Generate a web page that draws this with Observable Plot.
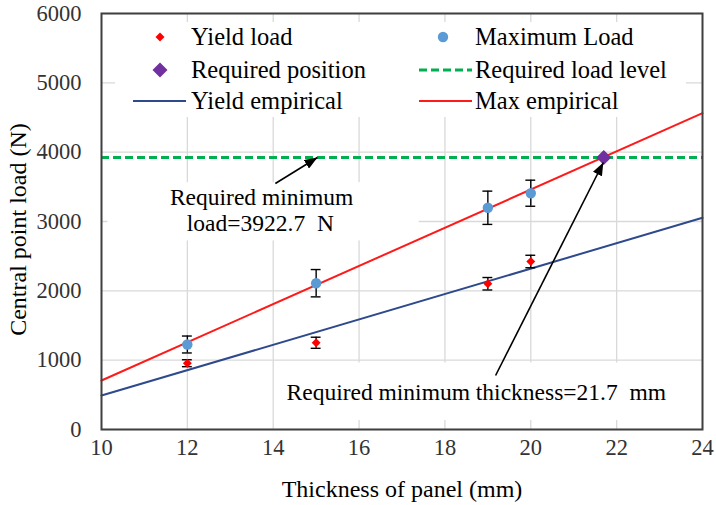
<!DOCTYPE html>
<html><head><meta charset="utf-8">
<script src="https://cdn.jsdelivr.net/npm/d3@7"></script>
<script src="https://cdn.jsdelivr.net/npm/@observablehq/plot@0.6"></script>
<style>
body{margin:0;background:#fff;}
#wrap{position:relative;width:716px;height:505px;}
#legend{position:absolute;left:115px;top:22px;width:571px;height:95px;background:#fff;font-family:"Liberation Serif",serif;font-size:24.5px;color:#000;}
.sym{position:absolute;width:53px;height:20px;}
.lab{position:absolute;white-space:nowrap;line-height:26px;height:26px;}
</style></head><body><div id="wrap"></div>
<script>
// ---- data ----
const thickness = [12, 15, 19, 20];
const yieldLoad = [956, 1251, 2102, 2423];
const yieldErr = [50, 80, 90, 90];
const maxLoad = [1226, 2110, 3198, 3408];
const maxErr = [122, 197, 240, 188];
const requiredThickness = [21.7];
const requiredLoad = [3922.7];
const empiricalX = [10, 24];
const yieldEmpirical = [490, 3053];
const maxEmpirical = [707, 4562];
const xTicks = [10, 12, 14, 16, 18, 20, 22, 24];
const yTicks = [0, 1000, 2000, 3000, 4000, 5000, 6000];
const legendLabels = ["Yield load", "Maximum Load", "Required position", "Required load level", "Yield empirical", "Max empirical"];
// annotations (data coordinates)
const noteLoadText = ["Required minimum", "load=3922.7\u00a0\u00a0N"];
const noteLoadX = [13.73, 13.70];
const noteLoadY = [3346, 2971];
const noteThickText = ["Required minimum thickness=21.7\u00a0\u00a0mm"];
const noteThickX = [18.73];
const noteThickY = [538];
const arrowsFrom = [[14.05, 3548], [19.18, 779]];
const arrowsTo = [[15.03, 3922.7], [21.69, 3851]];
const noteBoxes = [{x1: 10.15, x2: 17.4, y1: 2720, y2: 3560}, {x1: 14.15, x2: 23.7, y1: 130, y2: 960}];

// ---- tables ----
const yieldPts = thickness.map((x, i) => ({x, y: yieldLoad[i], e: yieldErr[i]}));
const maxPts = thickness.map((x, i) => ({x, y: maxLoad[i], e: maxErr[i]}));
const yieldLine = empiricalX.map((x, i) => ({x, y: yieldEmpirical[i]}));
const maxLine = empiricalX.map((x, i) => ({x, y: maxEmpirical[i]}));
const reqPt = requiredThickness.map((x, i) => ({x, y: requiredLoad[i]}));
const notes1 = noteLoadText.map((t, i) => ({t, x: noteLoadX[i], y: noteLoadY[i]}));
const notes2 = noteThickText.map((t, i) => ({t, x: noteThickX[i], y: noteThickY[i]}));
const arrows = arrowsFrom.map((f, i) => ({x1: f[0], y1: f[1], x2: arrowsTo[i][0], y2: arrowsTo[i][1]}));
const errPts = [...yieldPts, ...maxPts];
const capHalf = 0.115;

const FONT = "Liberation Serif";

function filledArrow(color, context) {
  const doc = context.document;
  const ns = "http://www.w3.org/2000/svg";
  const m = doc.createElementNS(ns, "marker");
  m.setAttribute("viewBox", "-13 -5 13 10");
  m.setAttribute("markerWidth", 13);
  m.setAttribute("markerHeight", 10);
  m.setAttribute("markerUnits", "userSpaceOnUse");
  m.setAttribute("orient", "auto");
  m.setAttribute("refX", 0);
  m.setAttribute("refY", 0);
  const p = doc.createElementNS(ns, "path");
  p.setAttribute("d", "M-13,-5L0,0L-13,5Z");
  p.setAttribute("fill", color);
  p.setAttribute("stroke", "none");
  m.appendChild(p);
  return m;
}

function build(useMarker) {
  const arrowMark = useMarker
    ? Plot.link(arrows, {x1: "x1", y1: "y1", x2: "x2", y2: "y2", stroke: "#000", strokeWidth: 1.6, markerEnd: filledArrow})
    : Plot.arrow(arrows, {x1: "x1", y1: "y1", x2: "x2", y2: "y2", stroke: "#000", strokeWidth: 1.6, headLength: 12, bend: 0});
  return Plot.plot({
    width: 716, height: 505,
    marginLeft: 101, marginRight: 14, marginTop: 13, marginBottom: 76,
    style: {fontFamily: FONT, fontSize: "22px", color: "#333", background: "#fff"},
    x: {domain: [10, 24]},
    y: {domain: [0, 6000]},
    marks: [
      Plot.gridX(xTicks, {stroke: "#d9d9d9", strokeOpacity: 1, strokeWidth: 1.3}),
      Plot.gridY(yTicks, {stroke: "#d9d9d9", strokeOpacity: 1, strokeWidth: 1.3}),
      Plot.rect(noteBoxes, {x1: "x1", x2: "x2", y1: "y1", y2: "y2", fill: "#fff"}),
      Plot.axisX(xTicks, {tickSize: 0, tickPadding: 10, fontSize: 22.5, fontFamily: FONT, fill: "#333", label: null, tickFormat: "d"}),
      Plot.axisY(yTicks, {tickSize: 0, tickPadding: 20, fontSize: 22.5, fontFamily: FONT, fill: "#333", label: null, tickFormat: "d"}),
      Plot.ruleY(requiredLoad, {stroke: "#00b050", strokeWidth: 3, strokeDasharray: "8,4"}),
      Plot.line(yieldLine, {x: "x", y: "y", stroke: "#2e4a8c", strokeWidth: 2}),
      Plot.line(maxLine, {x: "x", y: "y", stroke: "#ff1a1a", strokeWidth: 2}),
      Plot.ruleX(errPts, {x: "x", y1: d => d.y - d.e, y2: d => d.y + d.e, stroke: "#000", strokeWidth: 1.4}),
      Plot.ruleY(errPts, {y: d => d.y - d.e, x1: d => d.x - capHalf, x2: d => d.x + capHalf, stroke: "#000", strokeWidth: 1.4}),
      Plot.ruleY(errPts, {y: d => d.y + d.e, x1: d => d.x - capHalf, x2: d => d.x + capHalf, stroke: "#000", strokeWidth: 1.4}),
      Plot.dot(yieldPts, {x: "x", y: "y", symbol: "diamond2", r: 4, fill: "#ff0000", stroke: "none"}),
      Plot.dot(maxPts, {x: "x", y: "y", symbol: "circle", r: 5.2, fill: "#5b9bd5", stroke: "none"}),
      Plot.dot(reqPt, {x: "x", y: "y", symbol: "diamond2", r: 6.8, fill: "#7030a0", stroke: "none"}),
      arrowMark,
      Plot.text(notes1, {x: "x", y: "y", text: "t", fontSize: 23.5, fontFamily: FONT, fill: "#000"}),
      Plot.text(notes2, {x: "x", y: "y", text: "t", fontSize: 23.5, fontFamily: FONT, fill: "#000"}),
      Plot.frame({stroke: "#404040", strokeWidth: 2}),
      Plot.text(["Thickness of panel (mm)"], {frameAnchor: "bottom", textAnchor: "middle", lineAnchor: "middle", dy: 60, fontSize: 24, fontFamily: FONT, fill: "#000"}),
      Plot.text(["Central point load (N)"], {frameAnchor: "left", textAnchor: "middle", lineAnchor: "middle", rotate: -90, dx: -83, dy: 8, fontSize: 24, fontFamily: FONT, fill: "#000"})
    ]
  });
}

let chart;
try { chart = build(true); } catch (e) { chart = build(false); }
const wrap = document.getElementById("wrap");
wrap.appendChild(chart);

// legend overlay
const legend = document.createElement("div");
legend.id = "legend";
const svgNS = "http://www.w3.org/2000/svg";
function sym(kind) {
  const s = document.createElementNS(svgNS, "svg");
  s.setAttribute("class", "sym");
  s.setAttribute("width", 53); s.setAttribute("height", 20);
  let el;
  if (kind === "redDiamond") { el = document.createElementNS(svgNS, "path"); el.setAttribute("d", "M27,5.5L31.5,10L27,14.5L22.5,10Z"); el.setAttribute("fill", "#ff0000"); }
  if (kind === "purpleDiamond") { el = document.createElementNS(svgNS, "path"); el.setAttribute("d", "M27,2.5L34.5,10L27,17.5L19.5,10Z"); el.setAttribute("fill", "#7030a0"); }
  if (kind === "blueCircle") { el = document.createElementNS(svgNS, "circle"); el.setAttribute("cx", 24); el.setAttribute("cy", 10); el.setAttribute("r", 5.2); el.setAttribute("fill", "#5b9bd5"); }
  if (kind === "greenDash") { el = document.createElementNS(svgNS, "line"); el.setAttribute("x1", 0); el.setAttribute("x2", 53); el.setAttribute("y1", 10); el.setAttribute("y2", 10); el.setAttribute("stroke", "#00b050"); el.setAttribute("stroke-width", 3); el.setAttribute("stroke-dasharray", "8,4"); }
  if (kind === "navyLine") { el = document.createElementNS(svgNS, "line"); el.setAttribute("x1", 0); el.setAttribute("x2", 53); el.setAttribute("y1", 10); el.setAttribute("y2", 10); el.setAttribute("stroke", "#2e4a8c"); el.setAttribute("stroke-width", 2); }
  if (kind === "redLine") { el = document.createElementNS(svgNS, "line"); el.setAttribute("x1", 0); el.setAttribute("x2", 53); el.setAttribute("y1", 10); el.setAttribute("y2", 10); el.setAttribute("stroke", "#ff1a1a"); el.setAttribute("stroke-width", 2); }
  s.appendChild(el);
  return s;
}
const kinds = ["redDiamond", "blueCircle", "purpleDiamond", "greenDash", "navyLine", "redLine"];
const rowY = [15, 48, 79];
const colSym = [18, 304];
const colLab = [76, 360];
legendLabels.forEach((lab, i) => {
  const row = Math.floor(i / 2), col = i % 2;
  const s = sym(kinds[i]);
  s.style.left = colSym[col] + "px";
  s.style.top = (rowY[row] - 10) + "px";
  legend.appendChild(s);
  const t = document.createElement("div");
  t.className = "lab";
  t.textContent = lab;
  t.style.left = colLab[col] + "px";
  t.style.top = (rowY[row] - 13) + "px";
  legend.appendChild(t);
});
wrap.appendChild(legend);
</script></body></html>
